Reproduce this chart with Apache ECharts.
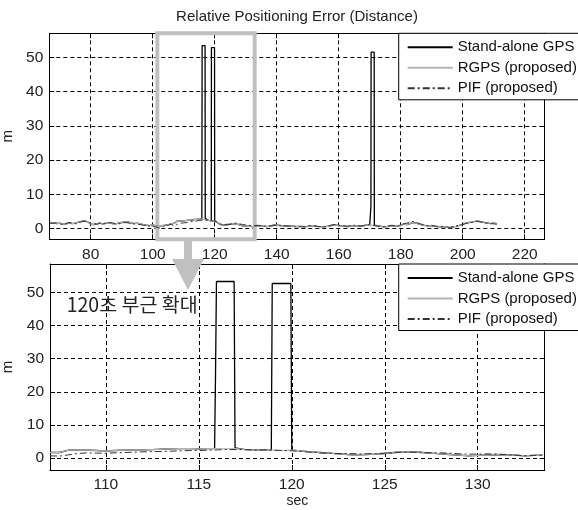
<!DOCTYPE html>
<html><head><meta charset="utf-8">
<script src="https://cdn.jsdelivr.net/npm/echarts@6/dist/echarts.min.js"></script>
<style>html,body{margin:0;padding:0;background:#fff}#c{width:578px;height:510px}</style>
</head><body><div id="c"></div>
<script>
const seriesNames = ['Stand-alone GPS', 'RGPS (proposed)', 'PIF (proposed)'];
const titleText = 'Relative Positioning Error (Distance)';
const noteText = '120초 부근 확대';
const xName = 'sec';
const yName = 'm';

// top plot: 1 s sampling from 67 s
const topStart = 67, topStep = 1;
const topRGPS = [
  1.8,1.7,1.5,1.6,1.3,1.4,1.7,1.5,1.6,1.9,
  2.1,2.3,2.0,1.4,1.2,1.5,1.6,1.3,1.6,1.7,
  1.5,1.4,1.6,1.8,1.9,2.0,1.7,1.5,1.6,1.4,
  1.2,1.0,0.9,1.1,0.8,0.6,0.9,1.0,1.2,1.4,
  1.6,2.3,2.2,2.3,2.4,2.5,2.6,2.7,2.8,2.8,
  2.6,2.4,2.3,2.2,1.7,1.2,1.0,1.1,1.3,1.5,
  1.4,1.1,0.8,0.7,0.8,0.6,0.7,0.9,0.8,0.7,
  0.6,0.8,1.0,1.1,0.9,0.8,0.7,0.9,0.8,0.6,
  0.7,0.6,0.5,0.7,0.8,0.9,0.7,0.6,0.5,0.6,
  0.8,1.0,1.1,0.9,0.8,0.7,0.6,0.8,0.9,0.8,
  0.7,0.9,1.0,1.1,1.0,0.9,0.8,0.6,0.5,0.7,
  0.9,0.8,0.7,1.0,1.3,1.2,1.5,1.8,1.6,1.3,
  1.1,0.9,0.8,0.9,0.7,0.6,0.5,0.6,0.4,0.3,
  0.5,0.7,1.0,1.3,1.6,1.8,1.9,2.1,2.2,2.0,
  1.8,1.7,1.5,1.6,1.5
];
const topPIF = [
  1.5,1.6,1.7,1.4,1.2,1.5,1.8,1.6,1.4,1.7,
  2.0,2.2,1.9,1.6,1.4,1.3,1.5,1.6,1.5,1.8,
  1.7,1.5,1.4,1.6,1.8,1.7,1.5,1.4,1.3,1.2,
  1.0,0.9,0.8,0.7,0.5,0.2,0.4,0.8,1.0,1.3,
  0.7,1.3,1.6,1.7,1.8,2.0,2.1,2.2,2.4,2.5,
  2.5,2.4,2.3,2.2,1.8,1.3,1.2,1.3,1.2,1.6,
  1.6,1.4,1.2,1.1,1.0,0.8,0.9,1.0,0.9,0.8,
  0.7,0.8,0.9,1.0,1.0,0.9,0.8,0.8,0.7,0.7,
  0.6,0.7,0.6,0.8,0.9,0.8,0.7,0.6,0.6,0.7,
  0.9,1.1,1.2,1.0,0.9,0.8,0.7,0.9,1.0,0.9,
  0.8,0.9,1.1,1.2,1.0,0.8,0.7,0.6,0.6,0.8,
  1.0,0.9,0.8,1.1,1.4,1.6,1.9,2.1,1.8,1.5,
  1.2,1.0,0.9,1.0,0.8,0.7,0.6,0.7,0.5,0.4,
  0.6,0.8,1.1,1.2,1.5,1.7,1.8,2.0,2.1,1.9,
  1.7,1.6,1.5,1.4,1.3
];

// zoomed plot: 0.5 s sampling from 107 s
const zoomStart = 107, zoomStep = 0.5;
const zoomRGPS = [
  1.6,1.6,2.3,2.4,2.3,2.2,2.1,2.2,2.3,2.4,
  2.4,2.5,2.6,2.7,2.8,2.8,2.7,2.8,2.8,2.7,
  2.8,2.5,2.4,2.3,2.3,2.2,2.3,2.1,1.8,1.6,
  1.4,1.2,1.0,0.9,1.0,1.1,1.3,1.6,1.7,1.8,
  1.6,1.4,1.2,1.0,0.8,0.6,0.7,0.9,1.0,0.9,
  0.8,0.6,0.7,0.8
];
const zoomPIF = [
  0.6,0.5,0.9,1.3,1.5,1.4,1.4,1.5,1.6,1.7,
  1.8,1.9,1.9,2.0,2.1,2.2,2.2,2.3,2.4,2.5,
  2.5,2.5,2.4,2.4,2.3,2.2,2.1,1.9,1.7,1.5,
  1.4,1.3,1.3,1.2,1.2,1.3,1.4,1.6,1.7,1.7,
  1.6,1.5,1.5,1.4,1.2,1.1,1.1,1.2,1.1,1.0,
  0.8,0.6,0.7,0.8
];

// stand-alone GPS outages (spikes)
const outageTime  = [115.85,115.9,115.95,116.9,116.95, 118.9,118.95,119.95,120.0, 170.35,170.4,170.45,171.45,171.5];
const outageValue = [2.8,25,53.4,53.4,3.0, 2.3,52.8,52.8,2.3, 1.0,6.6,51.5,51.5,1.0];
const outageStart = [115.85, 118.9, 170.35];
const outageEnd   = [116.95, 120.0, 171.5];

const topXTicks = [80,100,120,140,160,180,200,220];
const zoomXTicks = [110,115,120,125,130];
const yTicks = [0,10,20,30,40,50];
const topXRange = [66.65, 226.45];
const zoomXRange = [107.0, 133.6];
const topYRange = [-3.1, 57];
const zoomYRange = [-3.7, 58.7];
const zoomWindow = [101.5, 132.9];

function pairs(start, step, vals) {
  return vals.map((v, i) => [+(start + i * step).toFixed(2), v]);
}
function standalone(base) {
  const lo = base[0][0], hi = base[base.length - 1][0];
  const pts = base.filter(p => !outageStart.some((s, k) => p[0] >= s && p[0] <= outageEnd[k]));
  outageTime.forEach((t, i) => { if (t >= lo && t <= hi) pts.push([t, outageValue[i]]); });
  return pts.sort((a, b) => a[0] - b[0]);
}

const FONT = 'Liberation Sans, Arial, sans-serif';
const grids = [
  { left: 49.3, top: 33.3, width: 495.4, height: 206 },
  { left: 50, top: 264, width: 494.7, height: 206 }
];

function xAxes(gi, range, ticks, withName) {
  const common = { type: 'value', gridIndex: gi, min: range[0], max: range[1] };
  return [
    Object.assign({}, common, {
      position: 'bottom',
      axisLine: { show: true, onZero: false, lineStyle: { color: '#000', width: 1 } },
      axisTick: { show: true, inside: true, length: 5, customValues: ticks, lineStyle: { color: '#000' } },
      axisLabel: { show: true, customValues: ticks, margin: 7, color: '#222', fontSize: 15.5, fontFamily: FONT },
      splitLine: { show: true, lineStyle: { color: '#000', type: [4, 3], width: 1 } },
      name: withName ? xName : '', nameLocation: 'middle', nameGap: 24,
      nameTextStyle: { color: '#222', fontSize: 14, fontFamily: FONT }
    }),
    Object.assign({}, common, {
      position: 'top',
      axisLine: { show: true, onZero: false, lineStyle: { color: '#000', width: 1 } },
      axisTick: { show: true, inside: true, length: 5, customValues: ticks, lineStyle: { color: '#000' } },
      axisLabel: { show: false },
      splitLine: { show: false }
    })
  ];
}
function yAxes(gi, range) {
  const common = { type: 'value', gridIndex: gi, min: range[0], max: range[1] };
  return [
    Object.assign({}, common, {
      position: 'left',
      axisLine: { show: true, onZero: false, lineStyle: { color: '#000', width: 1 } },
      axisTick: { show: true, inside: true, length: 5, customValues: yTicks, lineStyle: { color: '#000' } },
      axisLabel: { show: true, customValues: yTicks, margin: 6, color: '#222', fontSize: 15.5, fontFamily: FONT },
      splitLine: { show: true, lineStyle: { color: '#000', type: [4, 3], width: 1 } },
      name: yName, nameLocation: 'middle', nameGap: 30, nameRotate: 90,
      nameTextStyle: { color: '#222', fontSize: 15, fontFamily: FONT }
    }),
    Object.assign({}, common, {
      position: 'right',
      axisLine: { show: true, onZero: false, lineStyle: { color: '#000', width: 1 } },
      axisTick: { show: true, inside: true, length: 5, customValues: yTicks, lineStyle: { color: '#000' } },
      axisLabel: { show: false },
      splitLine: { show: false }
    })
  ];
}

const styles = [
  { color: '#000', width: 1.3, type: 'solid' },
  { color: '#b4b4b4', width: 1.2, type: 'solid' },
  { color: '#333', width: 1, type: [7, 3, 2, 3] }
];
function lineSeries(name, idx, xi, yi, data) {
  return {
    type: 'line', name: name, xAxisIndex: xi, yAxisIndex: yi, data: data,
    symbol: 'none', showSymbol: false, clip: true, z: 2 + idx,
    itemStyle: { color: styles[idx].color },
    lineStyle: styles[idx], emphasis: { disabled: true }
  };
}

const topBase = pairs(topStart, topStep, topRGPS);
const zoomBase = pairs(zoomStart, zoomStep, zoomRGPS);

const series = [
  lineSeries(seriesNames[0], 0, 0, 0, standalone(topBase)),
  lineSeries(seriesNames[1], 1, 0, 0, topBase),
  lineSeries(seriesNames[2], 2, 0, 0, pairs(topStart, topStep, topPIF)),
  lineSeries(seriesNames[0], 0, 2, 2, standalone(zoomBase)),
  lineSeries(seriesNames[1], 1, 2, 2, zoomBase),
  lineSeries(seriesNames[2], 2, 2, 2, pairs(zoomStart, zoomStep, zoomPIF)),
  {
    type: 'line', name: 'zoomWindow', xAxisIndex: 0, yAxisIndex: 0, data: [], clip: false, z: 10,
    markArea: {
      silent: true,
      itemStyle: { color: 'rgba(0,0,0,0)', borderColor: '#c0c0c0', borderWidth: 4 },
      label: { show: false },
      data: [[{ xAxis: zoomWindow[0], yAxis: topYRange[0] }, { xAxis: zoomWindow[1], yAxis: topYRange[1] }]]
    }
  }
];

function legend(top) {
  return {
    data: seriesNames, orient: 'vertical', left: 398.7, top: top,
    backgroundColor: '#fff', borderColor: '#000', borderWidth: 1, borderRadius: 0,
    padding: [6.5, 40, 4, 8], itemWidth: 45, itemHeight: 14, itemGap: 5.5,
    selectedMode: false, z: 20,
    itemStyle: { opacity: 0, borderWidth: 0 },
    textStyle: { color: '#111', fontSize: 15, lineHeight: 15, fontFamily: FONT }
  };
}

const chart = echarts.init(document.getElementById('c'), null, { renderer: 'canvas' });
chart.setOption({
  animation: false,
  backgroundColor: '#fff',
  grid: grids.map(g => Object.assign({ show: false, outerBoundsMode: 'none', containLabel: false }, g)),
  xAxis: [].concat(xAxes(0, topXRange, topXTicks, false), xAxes(1, zoomXRange, zoomXTicks, true)),
  yAxis: [].concat(yAxes(0, topYRange), yAxes(1, zoomYRange)),
  legend: [legend(33.3), legend(264)],
  series: series,
  graphic: [
    { type: 'text', x: 297, y: 17, z: 30,
      style: { text: titleText, fill: '#222', font: '15px ' + FONT, textAlign: 'center', textVerticalAlign: 'middle' } },
    { type: 'text', x: 66.7, y: 305, z: 30,
      style: { text: noteText, fill: '#222', font: '19.5px "Noto Sans CJK KR", sans-serif', textAlign: 'left', textVerticalAlign: 'middle' } },
    { type: 'rect', z: 40, shape: { x: 184, y: 240, width: 8, height: 21 }, style: { fill: '#c0c0c0' } },
    { type: 'polygon', z: 40, shape: { points: [[172, 259], [204, 259], [188, 290]] }, style: { fill: '#c0c0c0' } }
  ]
});
</script></body></html>
